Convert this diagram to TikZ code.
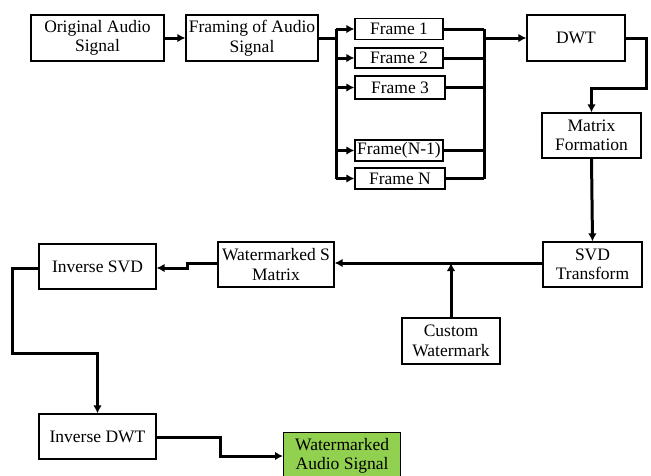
\documentclass[tikz,border=0pt]{standalone}
\usepackage{fontspec}
\setmainfont{Liberation Serif}
\usetikzlibrary{arrows.meta}
\definecolor{wmgreen}{HTML}{92D050}
\tikzset{
  box/.style={draw=black, line width=1.2pt, inner sep=0pt, align=center,
    font=\fontsize{17.5}{19.5}\selectfont},
  conn/.style={line width=3pt},
  arr/.style={conn, -{Latex[length=8pt,width=8.5pt]}},
}
\begin{document}
\begin{tikzpicture}[x=1pt,y=-1pt]
\useasboundingbox (0,0) rectangle (651,475);
\clip (0,0) rectangle (651,475);
% nodes
\node[box, minimum width=133pt, minimum height=46pt] (orig) at (97.5,38) {Original Audio\\Signal};
\node[box, minimum width=132pt, minimum height=46pt] (framing) at (252,38) {Framing of Audio\\Signal};
\node[box, minimum width=88pt, minimum height=21pt] (f1) at (399,29) {Frame 1};
\node[box, minimum width=88pt, minimum height=20pt] (f2) at (399,58) {Frame 2};
\node[box, minimum width=90pt, minimum height=23pt] (f3) at (400,87.5) {Frame 3};
\node[box, minimum width=88pt, minimum height=21pt] (fn1) at (399,150.5) {Frame(N-1)};
\node[box, minimum width=90pt, minimum height=21pt] (fn) at (400,178.5) {Frame N};
\node[box, minimum width=98pt, minimum height=46pt] (dwt) at (576,38) {DWT};
\node[box, minimum width=99pt, minimum height=45pt] (matrix) at (591.5,135.5) {Matrix\\Formation};
\node[box, minimum width=99pt, minimum height=45pt] (svd) at (592.5,264.5) {SVD\\Transform};
\node[box, minimum width=116pt, minimum height=45pt] (wsm) at (276,264.5) {Watermarked S\\Matrix};
\node[box, minimum width=98pt, minimum height=46pt] (cw) at (451,341) {Custom\\Watermark};
\node[box, minimum width=117pt, minimum height=45pt] (isvd) at (97.5,266.5) {Inverse SVD};
\node[box, minimum width=117pt, minimum height=45pt] (idwt) at (97.5,436.5) {Inverse DWT};
\node[box, fill=wmgreen, minimum width=117pt, minimum height=46pt, anchor=north west] (was) at (283,432) {Watermarked\\Audio Signal};
% coordinates
\coordinate (busL) at (336,38);
\coordinate (busLtop) at (336,29);
\coordinate (busLbot) at (336,178.5);
\coordinate (busR) at (484,38);
\coordinate (busRtop) at (484,29);
\coordinate (busRbot) at (484,178.5);
\coordinate (d1) at (646,38);
\coordinate (d2) at (646,88);
\coordinate (d3) at (591.5,88);
\coordinate (cwj) at (451,263);
\coordinate (j1) at (187,263);
\coordinate (j2) at (187,268);
\coordinate (i1) at (12,268);
\coordinate (i2) at (12,353);
\coordinate (i3) at (97.5,353);
\coordinate (o1) at (220,437);
\coordinate (o2) at (220,456);
% connectors
\draw[arr] (orig.east) -- (framing.west);
\draw[conn] (framing.east) -- (busL);
\draw[conn] (busLtop) -- (busLbot);
\foreach \f in {f1,f2,f3,fn1,fn} {
  \draw[arr] (busL |- \f.west) -- (\f.west);
  \draw[conn] (\f.east) -- (busR |- \f.east);
}
\draw[conn] (busRtop) -- (busRbot);
\draw[arr] (busR) -- (dwt.west);
\draw[arr] (dwt.east) -- (d1) -- (d2) -- (d3) -- (matrix.north);
\draw[arr] (matrix.south) -- (svd.north);
\draw[arr] (svd.west |- 0,263) -- (wsm.east |- 0,263);
\draw[arr] (cw.north) -- (cwj);
\draw[arr] (wsm.west |- 0,263) -- (j1) -- (j2) -- (isvd.east |- 0,268);
\draw[arr] (isvd.west |- 0,268) -- (i1) -- (i2) -- (i3) -- (idwt.north);
\draw[arr] (idwt.east |- 0,437) -- (o1) -- (o2) -- (was.west |- 0,456);
\end{tikzpicture}
\end{document}
